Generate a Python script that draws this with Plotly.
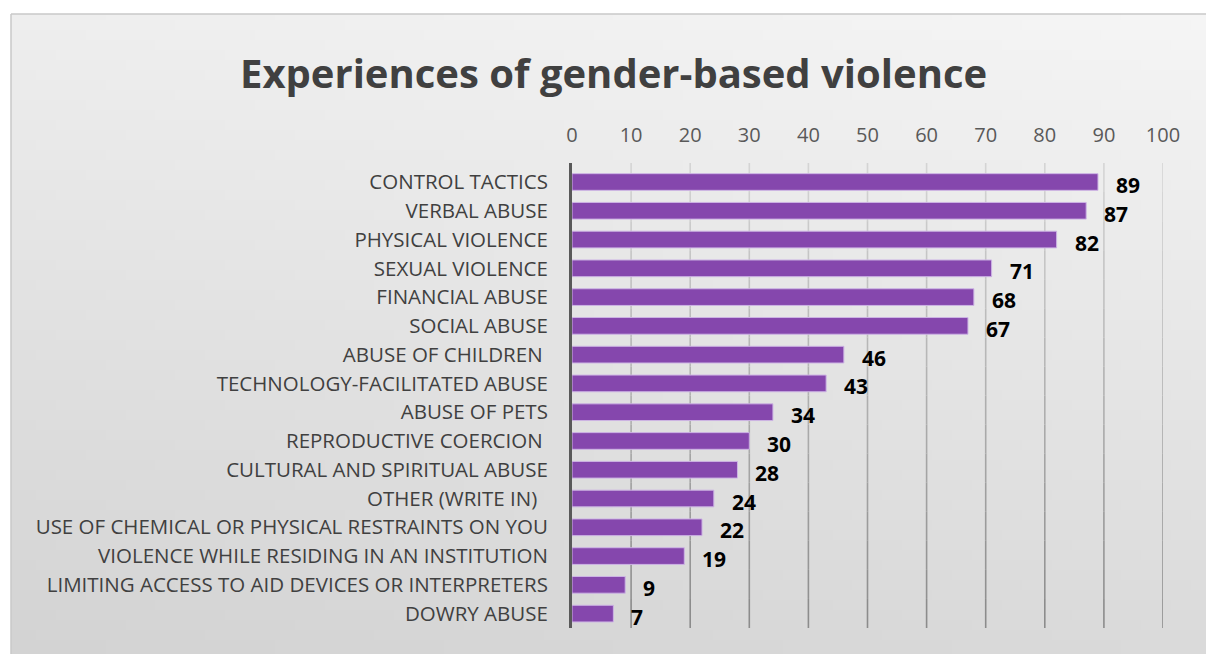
import base64, struct, zlib
import plotly.graph_objects as go

# ---------------- data ----------------
categories = [
    "CONTROL TACTICS", "VERBAL ABUSE", "PHYSICAL VIOLENCE", "SEXUAL VIOLENCE",
    "FINANCIAL ABUSE", "SOCIAL ABUSE", "ABUSE OF CHILDREN\u00a0",
    "TECHNOLOGY-FACILITATED ABUSE", "ABUSE OF PETS", "REPRODUCTIVE COERCION\u00a0",
    "CULTURAL AND SPIRITUAL ABUSE", "OTHER (WRITE IN)\u00a0\u00a0",
    "USE OF CHEMICAL OR PHYSICAL RESTRAINTS ON YOU",
    "VIOLENCE WHILE RESIDING IN AN INSTITUTION",
    "LIMITING ACCESS TO AID DEVICES OR INTERPRETERS", "DOWRY ABUSE",
]
values = [89, 87, 82, 71, 68, 67, 46, 43, 34, 30, 28, 24, 22, 19, 9, 7]
x_ticks = [0, 10, 20, 30, 40, 50, 60, 70, 80, 90, 100]
title_text = "Experiences of gender-based violence"

# ---------------- geometry ----------------
W, H = 1206, 654
ML, MR, MT, MB = 572, 43, 163, 26
PW, PH = W - ML - MR, H - MT - MB


def px_x(p):
    return (p - ML) / PW


def px_y(p):
    return (H - MB - p) / PH


# ---------------- gradient background PNG ----------------
def make_png(w, h, fn):
    raw = b""
    for j in range(h):
        row = bytes(fn(i / (w - 1), j / (h - 1)) for i in range(w))
        raw += b"\x00" + row

    def chunk(t, d):
        c = struct.pack(">I", len(d)) + t + d
        return c + struct.pack(">I", zlib.crc32(t + d) & 0xFFFFFFFF)

    png = b"\x89PNG\r\n\x1a\n"
    png += chunk(b"IHDR", struct.pack(">IIBBBBB", w, h, 8, 0, 0, 0, 0))
    png += chunk(b"IDAT", zlib.compress(raw, 9))
    png += chunk(b"IEND", b"")
    return "data:image/png;base64," + base64.b64encode(png).decode()


bg_src = make_png(120, 64, lambda tx, ty: int(round(245 - 27 * ty - 7 * (1 - tx))))

fig = go.Figure()
fig.add_trace(go.Bar(
    x=values, y=categories, orientation="h",
    marker=dict(color="#8547AD", line=dict(color="rgba(205,180,228,1)", width=1)),
    hoverinfo="x+y",
))

# value labels
for c, v in zip(categories, values):
    fig.add_annotation(
        x=v, y=c, text=f"<b>{v}</b>", showarrow=False, xanchor="left",
        xshift=16, yshift=-3,
        font=dict(family="Open Sans", size=21, color="#000000"),
    )

# title
fig.add_annotation(
    xref="paper", yref="paper", x=px_x(613), y=px_y(73),
    text=f"<b>{title_text}</b>", showarrow=False, xanchor="center", yanchor="middle",
    font=dict(family="Open Sans", size=40, color="#404040"),
)

shapes = []
# gridlines with vertical colour gradient
nseg = 16
for t in x_ticks[1:]:
    for k in range(nseg):
        f = (k + 0.5) / nseg
        g = int(round(214 - 76 * f))
        shapes.append(dict(
            type="line", xref="x", yref="paper", x0=t, x1=t,
            y0=1 - k / nseg, y1=1 - (k + 1) / nseg,
            line=dict(color=f"rgb({g},{g},{g})", width=1.6), layer="below",
        ))
# chart border (left & top)
shapes.append(dict(type="line", xref="paper", yref="paper",
                   x0=px_x(11), x1=px_x(11), y0=px_y(14), y1=px_y(660),
                   line=dict(color="#c8c8c8", width=1.5)))
shapes.append(dict(type="line", xref="paper", yref="paper",
                   x0=px_x(11), x1=px_x(1210), y0=px_y(14), y1=px_y(14),
                   line=dict(color="#c8c8c8", width=1.5)))

fig.update_layout(
    width=W, height=H,
    margin=dict(l=ML, r=MR, t=MT, b=MB, pad=0),
    paper_bgcolor="white", plot_bgcolor="rgba(0,0,0,0)",
    showlegend=False, bargap=0.42,
    shapes=shapes,
    images=[dict(source=bg_src, xref="paper", yref="paper",
                 x=px_x(11), y=px_y(14), sizex=px_x(1206) - px_x(11),
                 sizey=px_y(14) - px_y(654), xanchor="left", yanchor="top",
                 sizing="stretch", layer="below")],
    xaxis=dict(side="top", range=[0, 100], tickvals=x_ticks, showgrid=False,
               zeroline=False, showline=False, ticks="",
               tickfont=dict(family="Open Sans", size=20, color="#595959"),
               ticklabelstandoff=16, fixedrange=True),
    yaxis=dict(autorange="reversed", showgrid=False, zeroline=False,
               showline=True, linecolor="#595959", linewidth=3, ticks="",
               tickfont=dict(family="Open Sans", size=20.5, color="#404040"),
               ticklabelstandoff=17, fixedrange=True),
    font=dict(family="Open Sans"),
)

fig.write_html("out.html")
